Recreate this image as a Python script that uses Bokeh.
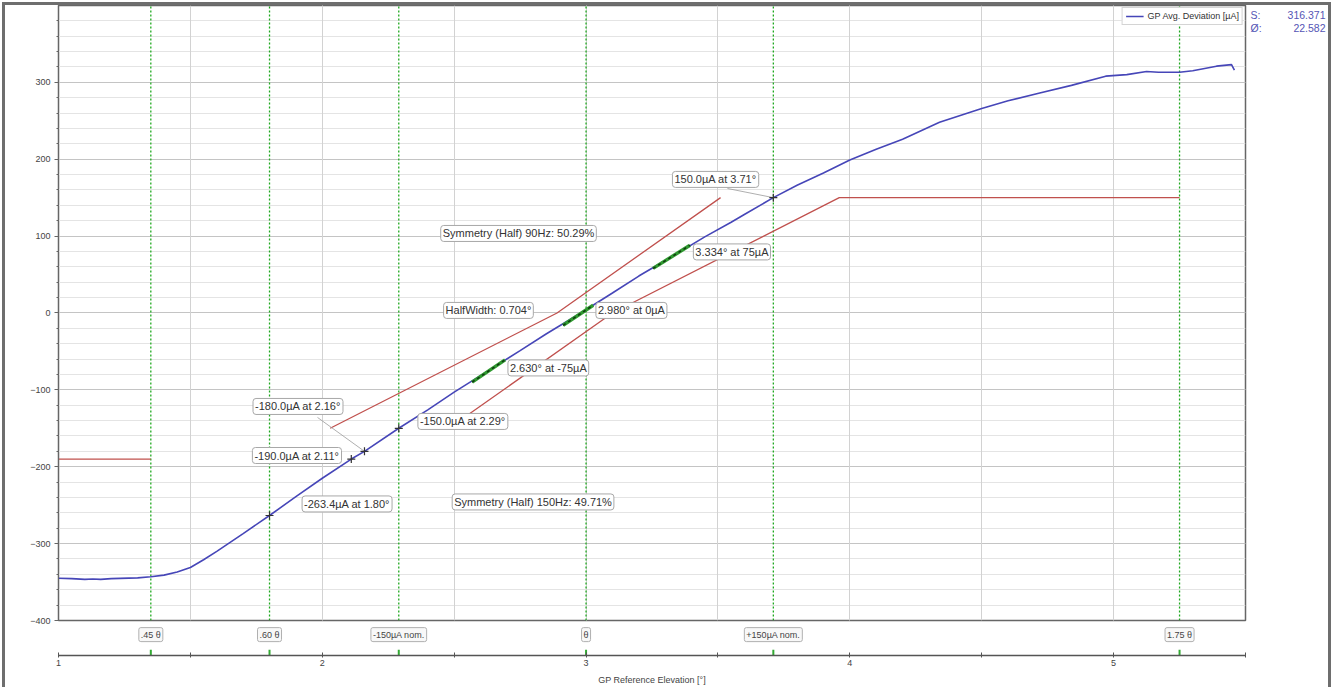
from bokeh.plotting import figure
from bokeh.models import (Range1d, FixedTicker, SingleIntervalTicker, Label, Grid)
from bokeh.layouts import column, row
from bokeh.embed import file_html
from bokeh.resources import INLINE

# ---------------- data ----------------
curve_x = [1.00, 1.05, 1.10, 1.13, 1.16, 1.20, 1.30, 1.35, 1.40, 1.45, 1.50, 1.55, 1.60, 1.70,
           1.80, 1.90, 2.00, 2.11, 2.16, 2.29, 2.40, 2.50, 2.63, 2.75, 2.85, 2.98, 3.10, 3.20,
           3.334, 3.45, 3.55, 3.60, 3.71, 3.80, 3.90, 4.00, 4.10, 4.20, 4.34, 4.50, 4.60, 4.72,
           4.84, 4.97, 5.05, 5.125, 5.17, 5.25, 5.30, 5.39, 5.447, 5.458]
curve_y = [-345, -345.5, -346.5, -346, -346.5, -345.5, -344.5, -343, -341, -337, -331, -321, -310, -287,
           -263.4, -239, -215, -190, -180, -150, -126, -103, -75, -49, -27, 0, 26, 48,
           75, 99, 118, 128, 150, 166, 182, 199, 213, 226, 248, 266, 276, 286,
           296, 308, 310, 314, 313, 313, 315, 321, 323, 316]

# measured points (crosses)
point_x = [1.80, 2.11, 2.16, 2.29, 3.71]
point_y = [-263.4, -190.0, -180.0, -150.0, 150.0]

# highlighted fit sections around -75, 0, +75 µA
fit_x0 = [2.568, 2.913, 3.254]
fit_y0 = [-90, -16, 58]
fit_x1 = [2.693, 3.027, 3.394]
fit_y1 = [-61, 10, 88]

# red limit lines
limit_left_x = [1.00, 1.35]
limit_left_y = [-190, -190]
upper_x = [2.03, 2.89, 3.51]
upper_y = [-150, 0, 150]
lower_x = [2.48, 3.10, 3.96, 5.25]
lower_y = [-150, 0, 150, 150]

# vertical markers
marker_x = [1.35, 1.80, 2.29, 3.00, 3.71, 5.25]
marker_names = [".45 θ", ".60 θ", "-150µA nom.", "θ", "+150µA nom.", "1.75 θ"]

# annotation texts with their anchor positions (data units)
note_texts = ["-180.0µA at 2.16°", "-190.0µA at 2.11°", "-263.4µA at 1.80°", "-150.0µA at 2.29°",
              "2.630° at -75µA", "2.980° at 0µA", "3.334° at 75µA", "150.0µA at 3.71°",
              "HalfWidth: 0.704°", "Symmetry (Half) 90Hz: 50.29%", "Symmetry (Half) 150Hz: 49.71%"]
note_x = [1.908, 1.904, 2.094, 2.533, 2.857, 3.172, 3.553, 3.491, 2.630, 2.744, 2.799]
note_y = [-121.6, -185.4, -248.4, -141.1, -71.5, 3.3, 79.4, 173.7, 3.3, 103.4, -245.8]

# leader lines from labels to points
leader_x0 = [1.982, 3.536]
leader_y0 = [-135.9, 161.9]
leader_x1 = [2.16, 3.71]
leader_y1 = [-180.0, 150.0]

stat_names = ["S:", "Ø:"]
stat_values = ["316.371", "22.582"]

FONT = "Liberation Sans"
BLUE = "#4646b8"
RED = "#c0504d"
GREEN = "#1fa81f"

FRAME_W = 1187
LEFT = 53
RIGHT = 83
Y_LO, Y_HI = -400, 399.9

# ---------------- main plot ----------------
p = figure(frame_width=FRAME_W, frame_height=615, x_range=Range1d(1, 5.5), y_range=Range1d(Y_LO, Y_HI),
           x_axis_location=None, output_backend="svg", toolbar_location=None,
           min_border_left=LEFT, min_border_right=2, min_border_top=0, min_border_bottom=6)
p.background_fill_color = "white"
p.border_fill_color = "white"
p.outline_line_color = "#666666"
p.outline_line_width = 1.5

yt = SingleIntervalTicker(interval=100, num_minor_ticks=5)
p.yaxis.ticker = yt
p.ygrid.ticker = yt
p.ygrid.grid_line_color = "#c4c4c4"
p.ygrid.minor_grid_line_color = "#e4e4e4"
p.yaxis.axis_line_color = "#666666"
p.yaxis.major_tick_line_color = "#666666"
p.yaxis.minor_tick_line_color = "#666666"
p.yaxis.major_tick_out = 4
p.yaxis.major_tick_in = 0
p.yaxis.minor_tick_out = 2
p.yaxis.minor_tick_in = 0
p.yaxis.major_label_text_font = FONT
p.yaxis.major_label_text_font_size = "9px"
p.yaxis.major_label_text_color = "#444444"
p.yaxis.major_label_standoff = 4

xg = Grid(dimension=0, ticker=FixedTicker(ticks=[1.5, 2, 2.5, 3, 3.5, 4, 4.5, 5]),
          grid_line_color="#d2d2d2")
p.add_layout(xg)

# green dotted marker lines
p.segment(marker_x, [Y_LO] * len(marker_x), marker_x, [Y_HI] * len(marker_x),
          line_color=GREEN, line_dash="2 2", line_width=1.3)

p.line(limit_left_x, limit_left_y, line_color=RED, line_width=1.3)
p.line(upper_x, upper_y, line_color=RED, line_width=1.3)
p.line(lower_x, lower_y, line_color=RED, line_width=1.3)

p.segment(leader_x0, leader_y0, leader_x1, leader_y1, line_color="#9a9a9a", line_width=0.8)

p.line(curve_x, curve_y, line_color=BLUE, line_width=1.6, legend_label="GP Avg. Deviation [µA]")

p.segment(fit_x0, fit_y0, fit_x1, fit_y1, line_color="#2f9a2f", line_width=3.5)
p.segment(fit_x0, fit_y0, fit_x1, fit_y1, line_color="#103810", line_width=1.5, line_dash="3 3")

p.scatter(point_x, point_y, marker="cross", size=8, line_color="#333333", line_width=1.2)

for t, x, y in zip(note_texts, note_x, note_y):
    p.add_layout(Label(x=x, y=y, text=t, text_align="center", text_baseline="middle",
                       text_font=FONT, text_font_size="11px", text_color="#333333",
                       background_fill_color="white", border_line_color="#a8a8a8",
                       border_line_width=1, padding=2, border_radius=3))

lg = p.legend[0]
lg.location = "top_right"
lg.margin = 2
lg.padding = 3
lg.spacing = 0
lg.label_text_font = FONT
lg.label_text_font_size = "9px"
lg.label_text_color = "#333333"
lg.label_height = 10
lg.glyph_height = 10
lg.glyph_width = 18
lg.label_standoff = 4
lg.border_line_color = "#aaaaaa"
lg.background_fill_alpha = 1.0

# ---------------- statistics panel at the right ----------------
MAIN_H = 615 + 6
s = figure(width=RIGHT - 2, height=MAIN_H, x_range=Range1d(0, RIGHT - 2), y_range=Range1d(0, MAIN_H),
           x_axis_location=None, y_axis_location=None, output_backend="svg", toolbar_location=None,
           min_border=0)
s.grid.visible = False
s.outline_line_color = None
s.background_fill_color = "white"
s.border_fill_color = "white"
for i, (n, v) in enumerate(zip(stat_names, stat_values)):
    yy = MAIN_H - 10 - i * 13
    s.add_layout(Label(x=3, y=yy, text=n, text_align="left", text_baseline="middle",
                       text_font=FONT, text_font_size="10.5px", text_color="#5555b5"))
    s.add_layout(Label(x=78, y=yy, text=v, text_align="right", text_baseline="middle",
                       text_font=FONT, text_font_size="10.5px", text_color="#5555b5"))

# ---------------- lower strip with marker tags and x axis ----------------
p2 = figure(frame_width=FRAME_W, frame_height=29, x_range=p.x_range, y_range=Range1d(0, 1),
            y_axis_location=None, output_backend="svg", toolbar_location=None,
            min_border_left=LEFT, min_border_right=RIGHT, min_border_top=0, min_border_bottom=0)
p2.grid.visible = False
p2.outline_line_color = None
p2.background_fill_color = "white"
p2.border_fill_color = "white"
ax = p2.xaxis[0]
ax.ticker = FixedTicker(ticks=[1, 2, 3, 4, 5], minor_ticks=[1.5, 2.5, 3.5, 4.5, 5.5])
ax.axis_line_color = "#555555"
ax.axis_line_width = 1.5
ax.major_tick_line_color = "#555555"
ax.minor_tick_line_color = "#555555"
ax.major_tick_in = 3
ax.major_tick_out = 2
ax.minor_tick_in = 3
ax.minor_tick_out = 2
ax.major_label_text_font = FONT
ax.major_label_text_font_size = "9px"
ax.major_label_text_color = "#444444"
ax.major_label_standoff = 2
ax.axis_label = "GP Reference Elevation [°]"
ax.axis_label_text_font = FONT
ax.axis_label_text_font_size = "9px"
ax.axis_label_text_font_style = "normal"
ax.axis_label_text_color = "#444444"
ax.axis_label_standoff = 6

p2.segment(marker_x, [0] * len(marker_x), marker_x, [0.2] * len(marker_x),
           line_color="#33aa33", line_width=2)
for n, mx in zip(marker_names, marker_x):
    p2.add_layout(Label(x=mx, y=0.72, text=n, text_align="center", text_baseline="middle",
                        text_font=FONT, text_font_size="9px", text_color="#444444",
                        background_fill_color="#f8f8f8", border_line_color="#b0b0b0",
                        border_line_width=1, padding=2, border_radius=2))

layout = column(row(p, s), p2,
                styles={"border-left": "3px solid #6e6e6e", "border-right": "3px solid #6e6e6e",
                        "border-top": "3px solid #6e6e6e", "background-color": "white",
                        "margin-left": "2px", "margin-top": "2px"})

open("out.html", "w").write(file_html(layout, INLINE))
